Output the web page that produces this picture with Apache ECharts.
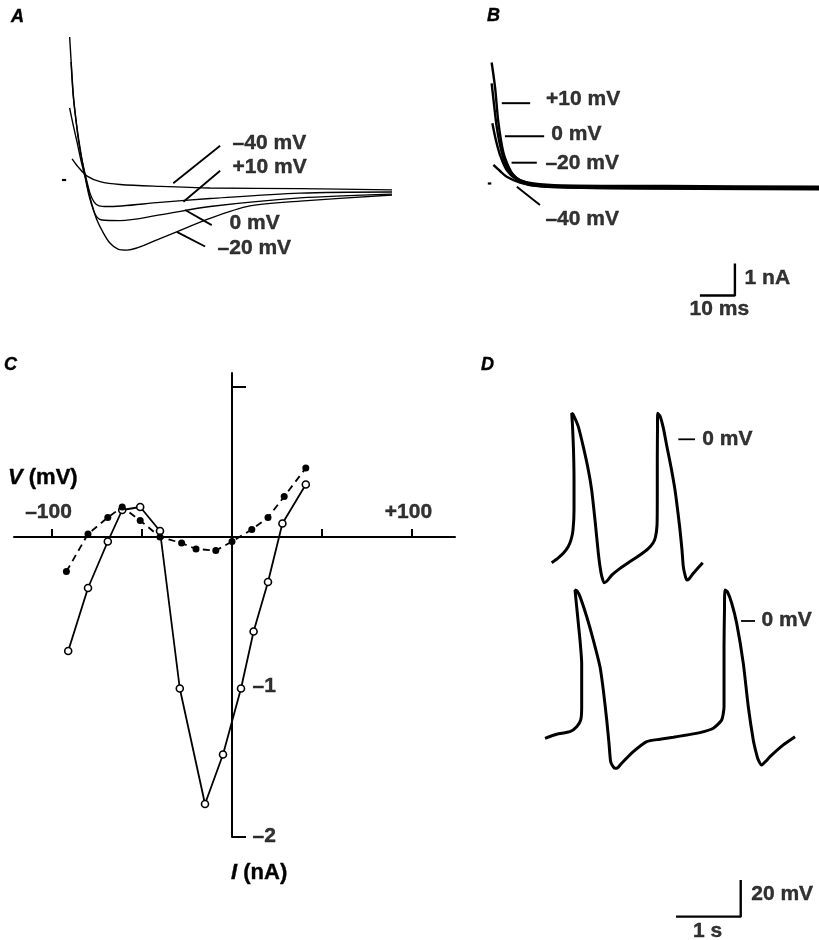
<!DOCTYPE html>
<html><head><meta charset="utf-8">
<script src="https://cdn.jsdelivr.net/npm/echarts@6/dist/echarts.min.js"></script>
<style>html,body{margin:0;padding:0;background:#fff}#chart{width:819px;height:940px}</style>
</head><body><div id="chart"></div>
<script>
// ---------- Panel A: currents (ms, nA) ----------
const aTraceM40 = [[0.6,0.66],[2.3,0.41],[4.9,0.12],[8.6,-0.05],[14.3,-0.14],[25.7,-0.2],[40,-0.25],[65.7,-0.27],[92,-0.31]];
const aTraceP10 = [[-0.1,4.47],[0.3,3.75],[1.0,2.59],[1.7,1.88],[2.4,1.25],[3.4,0.63],[4.6,0.06],[5.7,-0.41],[6.9,-0.69],[8.3,-0.81],[10.6,-0.83],[25.7,-0.7],[40,-0.58],[65.7,-0.41],[92,-0.375]];
const aTrace0 = [[-0.1,2.25],[0.9,1.72],[2.0,1.19],[3.1,0.63],[4.3,0.09],[5.4,-0.47],[6.6,-0.91],[7.7,-1.16],[9.1,-1.25],[14.3,-1.27],[25.7,-1.09],[40,-0.83],[65.7,-0.56],[92,-0.44]];
const aTraceM20 = [[0.3,3.69],[0.9,2.66],[1.7,1.88],[2.6,1.19],[3.7,0.47],[4.9,-0.16],[6.3,-0.78],[7.7,-1.25],[9.4,-1.63],[11.4,-1.97],[13.7,-2.16],[16.3,-2.19],[25.7,-1.83],[40,-1.2],[51.4,-0.81],[65.7,-0.66],[92,-0.47]];
const aLeaders = [[[29.5,-0.1],[42.9,1.07]], [[32.4,-0.68],[42.9,0.29]], [[32.9,-0.94],[40.5,-1.41]], [[30.5,-1.62],[38.6,-2.08]]];
const aBaseTick = [[-2.3,0],[-1.1,0]];
const aLabelNames = ['\u201340 mV', '+10 mV', '0 mV', '\u201320 mV'];
const aLabelPos = [[46.6,1.125],[46.6,0.375],[45.7,-1.375],[42.3,-2.16]];

// ---------- Panel B: currents (ms, nA) ----------
const bTraceP10 = [[-0.1,3.78],[0.9,2.98],[1.8,1.93],[3.2,0.99],[4.7,0.53],[6.1,0.27],[8,0.11],[11.8,0.0],[20,-0.06],[50,-0.08],[96,-0.1]];
const bTrace0 = [[-0.1,3.13],[0.6,2.45],[1.4,1.73],[2.6,1.05],[4,0.58],[5.7,0.3],[8,0.1],[12.3,-0.03],[20,-0.09],[50,-0.12],[96,-0.13]];
const bTraceM20 = [[0.1,1.88],[1.1,1.36],[2.3,0.89],[4.2,0.42],[7.1,0.11],[10.7,-0.05],[20,-0.12],[50,-0.15],[96,-0.16]];
const bTraceM40 = [[0.4,0.58],[2.3,0.39],[4.2,0.21],[8,0.03],[13.7,-0.08],[30,-0.14],[96,-0.18]];
const bLeaders = [[[2.8,2.51],[10.9,2.51]], [[3.7,1.48],[14.9,1.48]], [[5.6,0.65],[12.8,0.65]], [[7.1,-0.1],[13.7,-0.67]]];
const bBaseTick = [[-1.2,0],[-0.2,0]];
const bLabelNames = ['+10 mV', '0 mV', '\u201320 mV', '\u201340 mV'];
const bLabelPos = [[15.6,2.63],[17.1,1.52],[15.4,0.63],[15.4,-1.14]];
const bScaleBar = [[59.4,-3.5],[69.4,-3.5],[69.4,-2.5]];   // 10 ms, 1 nA
const bScaleNames = ['1 nA', '10 ms'];
const bScalePos = [[72.3,-2.96],[65.1,-3.95]];

// ---------- Panel C: I-V relation (mV, nA) ----------
const cVoltFilled = [-92,-80,-69,-61,-51,-40,-28,-20,-9,0,11,20,29,41];
const cCurrFilled = [-0.23,0.02,0.13,0.2,0.11,0,-0.04,-0.08,-0.09,-0.03,0.05,0.13,0.27,0.46];
const cVoltOpen = [-91,-80,-69,-61,-51,-40,-29,-15,-5,5,12,20,28,41];
const cCurrOpen = [-0.76,-0.34,-0.03,0.18,0.2,0.04,-1.01,-1.78,-1.45,-1.01,-0.63,-0.3,0.09,0.35];
const cXTicks = [-100,-50,50,100];
const cXLabels = [-100,100];
const cYTicks = [-2,1];
const cYLabels = [-1,-2];

// ---------- Panel D: action potentials (s, mV) ----------
const dTop = [[0,-67.3],[0.097,-64.8],[0.179,-62.2],[0.252,-58.8],[0.298,-54.9],[0.329,-49.5],[0.345,-38.6],[0.345,-22.2],[0.337,-5.8],[0.321,7.8],[0.309,14.3],[0.334,13.3],[0.411,6.9],[0.488,-4.0],[0.566,-16.7],[0.618,-27.7],[0.669,-44.0],[0.720,-62.0],[0.747,-69.5],[0.773,-74.6],[0.808,-78.2],[0.855,-77.3],[0.932,-74.0],[1.056,-70.4],[1.210,-66.7],[1.365,-63.1],[1.488,-59.8],[1.566,-56.6],[1.604,-53.3],[1.628,-46.8],[1.632,-33.1],[1.632,-11.3],[1.635,5.1],[1.638,14.2],[1.674,12.7],[1.725,6.2],[1.782,-4.2],[1.844,-15.1],[1.906,-27.7],[1.952,-40.2],[1.983,-49.5],[2.014,-60.4],[2.034,-69.5],[2.060,-74.0],[2.087,-76.8],[2.122,-76.2],[2.189,-73.1],[2.261,-70.2],[2.334,-67.3]];
const dBottom = [[0,-64.0],[0.181,-61.8],[0.386,-60.4],[0.490,-57.7],[0.552,-54.0],[0.567,-46.8],[0.567,-23.1],[0.541,-10.4],[0.515,-1.3],[0.487,8.7],[0.464,16.9],[0.495,16.4],[0.541,13.3],[0.645,2.3],[0.747,-10.4],[0.850,-25.0],[0.901,-37.6],[0.954,-54.0],[0.989,-66.7],[1.015,-76.8],[1.051,-79.4],[1.082,-80.4],[1.128,-79.9],[1.185,-77.6],[1.365,-71.3],[1.572,-65.8],[1.777,-64.5],[1.983,-63.4],[2.190,-62.2],[2.396,-60.9],[2.601,-58.5],[2.731,-54.0],[2.767,-46.8],[2.767,-14.0],[2.774,6.0],[2.782,16.9],[2.821,15.8],[2.886,9.7],[2.963,-1.3],[3.065,-23.1],[3.142,-46.8],[3.219,-64.9],[3.261,-71.5],[3.297,-75.8],[3.349,-78.6],[3.416,-76.4],[3.478,-74.0],[3.683,-67.6],[3.864,-63.1]];
const dTopZero = [[1.957,0],[2.215,0]];
const dBottomZero = [[3.03,0],[3.246,0]];
const dZeroName = '0 mV';
const dTopZeroLabel = [2.334,0];
const dBottomZeroLabel = [3.354,0];
const dScaleBar = [[2.025,-161.3],[3.025,-161.3],[3.025,-141.3]];  // 1 s, 20 mV
const dScaleNames = ['20 mV', '1 s'];
const dScalePos = [[3.195,-149.5],[2.52,-169.7]];

// ---------- layout helpers ----------
function frame(left, top, width, height, x0, y0, sx, sy) {
  return { grid: { left, top, width, height },
    xMin: (left - x0) / sx, xMax: (left + width - x0) / sx,
    yMin: (y0 - top - height) / sy, yMax: (y0 - top) / sy };
}
const F = [
  frame(40, 25, 370, 270, 70, 180, 3.5, 32),       // A
  frame(470, 40, 349, 290, 492, 183.5, 3.5, 32),   // B
  frame(14, 373, 441, 464, 232, 537, 1.8, 150),    // C
  frame(530, 395, 289, 210, 551.7, 439.3, 64.7, 1.833), // D top
  frame(530, 570, 289, 370, 545, 621, 64.7, 1.833)      // D bottom
];
const FONT = 'Liberation Sans, Arial, Helvetica, sans-serif';
const txt = { color: '#000', fontFamily: FONT, fontWeight: 'bold', fontSize: 21,
  textBorderColor: '#000', textBorderWidth: 0.4 };

const xAxes = F.map((f, i) => ({ type: 'value', gridIndex: i, min: f.xMin, max: f.xMax, show: false }));
const yAxes = F.map((f, i) => ({ type: 'value', gridIndex: i, min: f.yMin, max: f.yMax, show: false }));

// Panel C visible axes (labels are drawn as data labels at the zero lines)
Object.assign(xAxes[2], {
  show: true, splitLine: { show: false },
  axisLine: { show: true, onZero: true, lineStyle: { color: '#000', width: 2 } },
  axisTick: { show: true, inside: true, length: 8, customValues: cXTicks, lineStyle: { color: '#000', width: 2 } },
  axisLabel: { show: false }
});
Object.assign(yAxes[2], {
  show: true, splitLine: { show: false },
  axisLine: { show: true, onZero: true, lineStyle: { color: '#000', width: 2 } },
  axisTick: { show: true, inside: true, length: 14, customValues: cYTicks, lineStyle: { color: '#000', width: 2 } },
  axisLabel: { show: false }
});

function trace(gi, data, w, smooth) {
  return { type: 'line', xAxisIndex: gi, yAxisIndex: gi, data, symbol: 'none', smooth: smooth === undefined ? 0.3 : smooth,
    lineStyle: { color: '#000', width: w }, silent: true, animation: false };
}
function labels(gi, names, pos, align, offset) {
  return { type: 'scatter', xAxisIndex: gi, yAxisIndex: gi, symbolSize: 1, silent: true, animation: false,
    itemStyle: { color: 'rgba(0,0,0,0)' },
    data: names.map((n, k) => ({ name: n, value: pos[k],
      label: { align: Array.isArray(align) ? align[k] : align } })),
    label: { show: true, position: [0, 0], verticalAlign: 'middle', offset: offset || [0, 0],
      formatter: p => p.name, ...txt } };
}
const fmtSigned = v => (v > 0 ? '+' : '\u2013') + Math.abs(v);

const series = [];
// A
[aTraceM40, aTraceP10, aTrace0, aTraceM20].forEach(d => series.push(trace(0, d, 1.4)));
aLeaders.forEach(d => series.push(trace(0, d, 1.8, false)));
series.push(trace(0, aBaseTick, 2.2, false));
series.push(labels(0, aLabelNames, aLabelPos, 'left'));
// B
[bTraceP10, bTrace0, bTraceM20, bTraceM40].forEach(d => series.push(trace(1, d, 2.4)));
bLeaders.forEach(d => series.push(trace(1, d, 2, false)));
series.push(trace(1, bBaseTick, 2.2, false));
series.push(labels(1, bLabelNames, bLabelPos, 'left'));
series.push(trace(1, bScaleBar, 2.4, false));
series.push(labels(1, bScaleNames, bScalePos, ['left', 'center']));
// C
series.push({ type: 'line', xAxisIndex: 2, yAxisIndex: 2, silent: true, animation: false,
  data: cVoltOpen.map((v, k) => [v, cCurrOpen[k]]), symbol: 'circle', symbolSize: 7,
  itemStyle: { color: '#fff', borderColor: '#000', borderWidth: 1.6 },
  lineStyle: { color: '#000', width: 1.8 } });
series.push({ type: 'line', xAxisIndex: 2, yAxisIndex: 2, silent: true, animation: false,
  data: cVoltFilled.map((v, k) => [v, cCurrFilled[k]]), symbol: 'circle', symbolSize: 7,
  itemStyle: { color: '#000' },
  lineStyle: { color: '#000', width: 1.8, type: [7, 5] } });
// C tick labels: x labels sit above the V axis, y labels right of the I axis
series.push(labels(2, cXLabels.map(fmtSigned), cXLabels.map(v => [v, 0]), 'center', [-3, -24]));
series.push(labels(2, cYLabels.map(fmtSigned), cYLabels.map(v => [0, v]), 'left', [21, 0]));
// D
series.push(trace(3, dTop, 3, 0.2));
series.push(trace(4, dBottom, 3, 0.2));
series.push(trace(3, dTopZero, 1.8, false));
series.push(trace(4, dBottomZero, 1.8, false));
series.push(labels(3, [dZeroName], [dTopZeroLabel], 'left'));
series.push(labels(4, [dZeroName], [dBottomZeroLabel], 'left'));
series.push(trace(4, dScaleBar, 2.4, false));
series.push(labels(4, dScaleNames, dScalePos, ['left', 'center']));

const letter = { color: '#000', fontFamily: FONT, fontWeight: 'bold', fontStyle: 'italic', fontSize: 18,
  textBorderColor: '#000', textBorderWidth: 0.4 };
const axisName = { ...txt, fontSize: 22, rich: { i: { ...txt, fontSize: 22, fontStyle: 'italic' } } };
const titles = [
  { text: 'A', left: 11, top: 8, textStyle: letter },
  { text: 'B', left: 487, top: 7, textStyle: letter },
  { text: 'C', left: 4, top: 356, textStyle: letter },
  { text: 'D', left: 481, top: 356, textStyle: letter },
  { text: '{i|V} (mV)', left: 8, top: 467, textStyle: axisName },
  { text: '{i|I} (nA)', left: 231, top: 862, textStyle: axisName }
].map(t => ({ ...t, padding: 0 }));

const chart = echarts.init(document.getElementById('chart'), null, { renderer: 'canvas' });
chart.setOption({
  animation: false,
  backgroundColor: '#fff',
  title: titles,
  grid: F.map(f => ({ ...f.grid, containLabel: false, show: false })),
  xAxis: xAxes,
  yAxis: yAxes,
  series
});
</script>
</body></html>
